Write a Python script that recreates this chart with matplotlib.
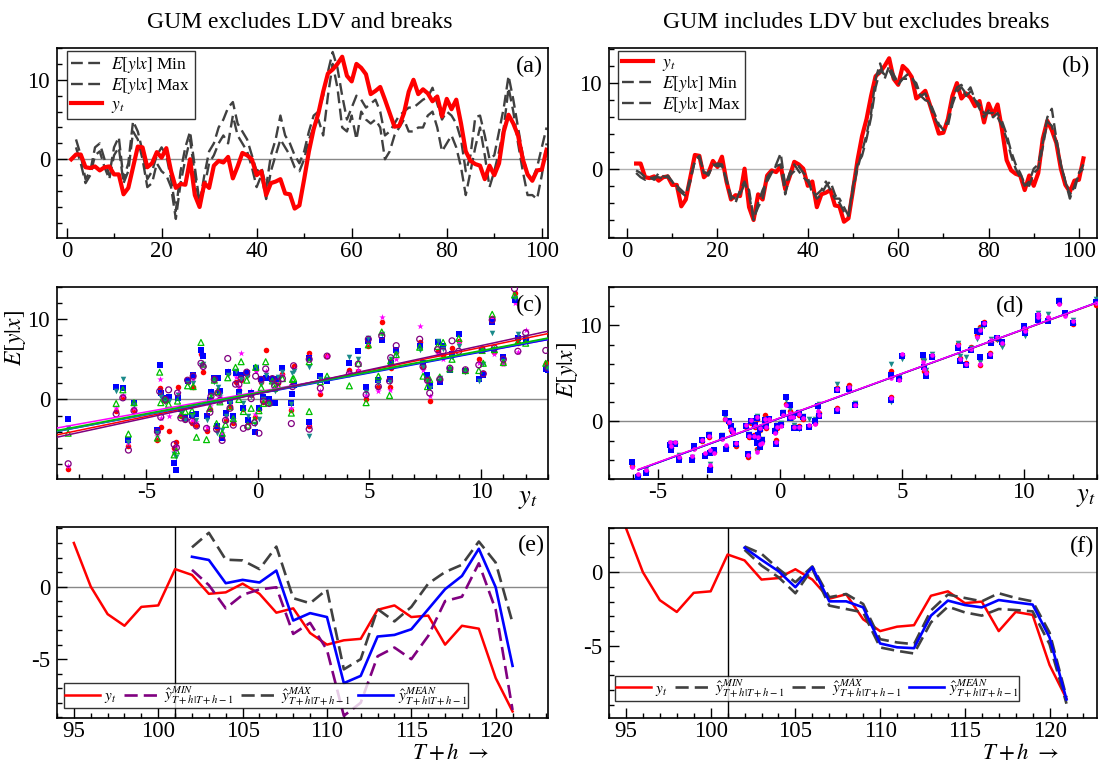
import numpy as np
import matplotlib
matplotlib.use('Agg')
import matplotlib.pyplot as plt
from matplotlib.ticker import MultipleLocator
from matplotlib.lines import Line2D

plt.rcParams['font.family'] = ['Liberation Serif', 'DejaVu Serif']
plt.rcParams['mathtext.fontset'] = 'stix'
plt.rcParams['axes.unicode_minus'] = False

# ---------------- data ----------------
t_first = 1
y_t = [0.0, 0.6, 0.6, -1.0, -1.1, -0.9, -1.4, -1.0, -0.9, -1.9,
       -1.9, -4.4, -3.6, -1.0, 1.6, 1.5, -1.0, -0.5, 0.9, 0.2,
       1.4, -1.5, -3.6, -3.1, -3.2, 0.0, -4.5, -6.0, -3.0, -3.6,
       -0.8, -0.2, -0.4, 0.3, -2.4, -0.9, 0.8, 0.5, 0.0, -2.0,
       -1.5, -4.5, -3.0, -2.8, -2.5, -4.3, -4.4, -6.2, -5.8, -2.5,
       1.0, 3.8, 5.8, 8.5, 10.8, 11.3, 12.0, 12.9, 10.5, 9.8,
       12.0, 11.5, 10.7, 8.2, 8.6, 9.1, 7.5, 5.8, 4.1, 4.2,
       5.8, 8.5, 10.0, 8.2, 8.8, 8.3, 7.3, 7.9, 5.4, 7.6,
       6.3, 7.5, 4.5, 1.0, -0.2, -0.6, -0.8, -2.5, -0.8, -2.0,
       -0.5, 3.5, 5.6, 4.5, 3.0, 0.0, -1.9, -2.7, -1.4, -1.3,
       1.2, 0.8, -0.5, -0.4, 0.2, -0.5, -1.8, -1.5, -3.2, -4.0,
       -3.7, -3.6, -1.6, -1.3, -2.1, -2.0, -4.0, -2.7, -2.9, -6.3,
       -8.6]

# panel (a): E[y|x] min / max, t = 2..101
a_Emin = [1.5, -0.5, -3.0, -2.0, 0.5, 1.0, -1.0, -2.5, 0.5, 1.5,
          -3.0, -1.5, 3.5, 2.5, 0.0, -3.5, -3.0, -0.5, -1.5, -2.0,
          -3.5, -7.5, -3.0, 0.0, 2.5, -2.0, -6.0, -3.5, -0.5, 0.5,
          2.0, 3.0, 2.0, 5.5, 3.0, 2.0, 1.0, -1.0, -3.5, -2.0,
          -5.0, -1.5, 0.5, 2.5, 1.5, 0.5, -1.0, -1.5, 0.0, 2.5,
          4.0, 5.0, 3.0, 8.0, 12.0, 9.0, 4.0, 3.5, 5.5, 2.5,
          6.0, 5.0, 4.5, 5.0, 4.0, 0.0, 1.0, 3.0, 4.0, 5.0,
          3.5, 3.5, 4.0, 4.0, 5.5, 6.0, 4.0, 1.0, 2.0, 3.0,
          1.5, -1.0, -4.5, -1.5, 1.5, 4.0, 0.5, -3.5, -1.5, 1.0,
          4.0, 9.0, 6.0, 2.0, -1.5, -4.5, -4.5, -5.0, -2.0, 2.0]
a_Emax = [2.5, 0.5, -2.5, -1.5, 1.5, 2.0, 0.0, -2.0, 1.5, 2.8,
          -2.5, -0.5, 4.8, 3.5, 1.0, -2.5, -1.5, 0.5, 1.5, 0.5,
          -2.5, -6.5, -1.5, 1.5, 3.5, -1.0, -5.5, -2.0, 1.0, 2.0,
          4.0, 5.0, 6.5, 7.2, 4.5, 3.5, 2.5, 0.5, -1.5, -1.0,
          -3.5, 0.5, 2.5, 5.5, 3.0, 2.0, 0.5, -0.5, 1.0, 3.5,
          5.5, 6.0, 8.0, 11.0, 13.5, 11.5, 8.0, 5.0, 6.5, 8.0,
          7.5, 6.5, 7.0, 7.5, 6.0, 3.0, 3.5, 4.5, 5.5, 6.0,
          6.5, 6.5, 7.0, 7.5, 7.8, 9.0, 7.0, 5.0, 6.0, 5.5,
          4.5, 2.5, -1.5, 0.5, 5.3, 5.5, 3.0, 0.0, 0.5, 3.5,
          6.5, 10.5, 7.5, 4.0, 0.5, -2.0, -2.5, -1.0, 1.5, 4.0]

# panel (b): E[y|x] min / max, t = 2..101
b_Emin = [-0.5, -1.0, -1.3, -1.0, -1.3, -0.5, -0.9, -1.0, -1.5, -2.0,
          -2.5, -3.0, -1.5, 1.0, 1.5, -0.5, -0.5, 0.3, 0.6, 0.5,
          -1.5, -3.5, -4.0, -2.5, -1.5, -3.0, -6.0, -4.0, -2.5, -1.5,
          -0.5, 0.5, 1.8, -2.0, -0.5, 0.5, -0.3, -1.0, -1.5, -2.5,
          -3.5, -3.0, -2.0, -1.5, -3.0, -4.0, -5.0, -5.5, -2.5, 0.0,
          2.0, 4.0, 6.5, 10.5, 12.3, 10.5, 12.0, 11.0, 10.0, 10.5,
          11.0, 10.8, 9.5, 8.5, 8.8, 7.5, 6.0, 5.0, 4.8, 5.5,
          8.0, 9.5, 9.8, 8.5, 9.0, 8.0, 7.5, 6.5, 6.5, 6.5,
          6.0, 5.0, 3.5, 1.5, 0.0, -1.0, -2.0, -1.5, 0.0, 0.5,
          3.0, 6.0, 7.0, 3.5, 0.5, -1.5, -3.5, -2.0, -0.5, 0.5]
b_Emax = [-0.2, -0.5, -1.0, -1.2, -1.0, -1.0, -1.2, -0.8, -1.5, -2.3,
          -2.8, -3.2, -1.0, 0.8, 1.3, -0.3, -0.8, 0.5, 0.3, 0.3,
          -1.2, -3.2, -3.5, -3.0, -1.8, -2.5, -5.8, -4.5, -3.5, -1.0,
          -0.3, 0.3, 0.5, -3.0, -0.8, -0.3, 0.3, -0.5, -1.0, -3.0,
          -3.0, -2.5, -1.5, -2.5, -3.5, -3.5, -4.5, -5.5, -2.0, 0.5,
          1.5, 3.5, 6.0, 9.5, 11.5, 11.0, 11.5, 10.5, 9.8, 10.5,
          10.5, 10.5, 10.0, 8.5, 8.0, 7.8, 6.5, 5.2, 4.5, 5.0,
          7.5, 9.0, 9.5, 8.8, 9.5, 8.0, 7.0, 6.0, 6.8, 6.0,
          6.5, 5.5, 4.0, 2.0, 0.5, -0.5, -1.8, -2.0, -0.5, 0.0,
          2.5, 5.5, 5.0, 3.0, 0.5, -1.5, -3.0, -2.5, -0.5, 0.0]

# panel (c): scatter of E[y|x] against y_t for six models
c_x = [-8.5, -6.35, -6.05, -5.8, -5.55, -4.5, -4.4, -4.35, -4.15, -4.0,
       -3.75, -3.65, -3.6, -3.25, -3.15, -2.95, -2.9, -2.75, -2.55, -2.45,
       -2.3, -2.15, -1.95, -1.85, -1.7, -1.6, -1.45, -1.35, -1.25, -1.1,
       -1.0, -0.85, -0.75, -0.65, -0.5, -0.3, -0.15, -0.1, 0.05, 0.15,
       0.35, 0.5, 0.65, 0.75, 1.1, 1.5, 1.55, 1.6, 2.3, 2.3,
       2.8, 3.1, 4.1, 4.5, 4.85, 4.95, 5.4, 5.55, 5.9, 5.95,
       6.2, 7.25, 7.4, 7.6, 7.7, 8.05, 8.15, 8.3, 8.6, 8.7,
       9.0, 9.3, 9.9, 10.05, 10.1, 10.5, 10.6, 11.0, 11.5, 11.65,
       12.0, 12.9, 13.0, -0.45, 0.25, -2.1, -3.45, -1.8, 0.9]
c_red = [-8.6, -1.4, 0.3, -5.8, -1.3, -5.0, 1.4, -3.4, -0.2, -3.9,
         -6.1, -5.3, 1.6, -2.4, 2.2, -2.9, 1.6, -3.2, 5.6, 3.4,
         -3.9, -1.2, 2.5, -3.6, 0.1, -4.6, -2.6, 3.3, -0.8, -2.9,
         2.2, 1.2, 2.4, -1.2, 3.0, 0.6, -2.2, 3.8, -1.2, 2.2,
         6.2, -0.3, 2.4, 1.3, 3.2, -1.3, 1.8, 4.2, -3.3, 5.8,
         0.7, 5.4, 3.7, 3.6, 0.0, 6.6, 1.5, 9.7, 1.6, 3.9,
         5.9, 7.1, 4.0, 2.6, -0.2, 6.0, 2.4, 5.5, 3.8, 6.4,
         7.3, 3.5, 5.0, 6.1, 3.3, 10.2, 5.9, 4.5, 13.2, 7.0,
         7.6, 4.5, 4.0, -2.8, -0.3, 0.8, -2.0, 1.1, 2.0]
c_magenta = [-8.3, -1.0, 0.6, -5.4, -1.0, -4.6, 2.5, -2.3, 0.1, -2.0,
             -6.5, -5.8, 0.8, -2.0, 2.4, -2.5, 2.6, -2.8, 5.8, 4.2,
             -3.4, -0.8, 2.6, -3.2, 0.4, -4.2, -2.2, 3.6, -0.5, -2.4,
             2.8, 1.5, 5.8, -0.8, 3.5, 1.0, -1.8, 3.6, -0.9, 2.6,
             3.5, -0.1, 2.6, 1.5, 3.0, -1.0, 2.2, 3.8, -3.0, 5.4,
             1.0, 5.4, 3.3, 3.7, 0.6, 7.0, 1.1, 10.3, 1.2, 4.3,
             5.0, 9.2, 3.7, 2.0, 0.4, 5.6, 2.6, 5.0, 3.9, 5.8,
             7.1, 3.6, 4.6, 6.0, 3.0, 10.1, 5.6, 4.4, 12.0, 5.9,
             8.7, 4.1, 3.8, -2.3, 0.1, 1.1, -1.6, 1.3, 2.3]
c_blue = [-2.4, 1.6, 1.4, -5.0, -0.5, -3.8, 4.3, 0.8, 0.2, 0.3,
          -7.9, -8.8, 0.2, -2.3, 2.3, -1.9, 3.0, -1.8, 6.2, 5.4,
          -2.0, -0.1, 2.7, -3.3, 1.0, -4.8, -1.7, 3.4, -0.2, -2.1,
          3.3, 0.9, 3.0, -1.0, 3.3, 0.8, -4.1, 3.9, -1.0, 2.5,
          2.7, 0.0, 2.5, -0.4, 3.9, -0.5, 0.7, 1.8, -2.8, 5.2,
          2.9, 2.3, 4.5, 6.0, 1.5, 7.3, 2.4, 7.4, 2.6, 4.6,
          6.2, 6.6, 4.5, 3.1, 1.7, 7.1, 2.2, 6.6, 3.7, 5.6,
          8.2, 3.5, 2.6, 6.2, 3.1, 9.7, 6.1, 5.3, 12.4, 7.6,
          7.4, 3.8, 3.7, -2.5, 0.3, 0.9, -1.2, 2.7, 2.5]
c_teal = [-3.5, 1.0, 2.5, -5.3, -0.7, -4.2, 0.6, 0.3, -0.3, -0.2,
          -6.8, -7.2, 0.5, -2.6, 2.0, -2.1, 2.1, -2.5, 4.3, 4.4,
          -2.6, -0.4, 2.2, -4.2, 0.6, -3.8, -2.0, 3.0, -0.4, -2.7,
          3.5, 0.5, 2.5, -0.5, 2.8, 0.4, -3.1, 4.0, -2.4, 1.9,
          3.1, -0.6, 2.1, 1.0, 3.4, -0.6, 3.3, 3.5, -4.5, 4.0,
          2.5, 2.6, 5.3, 5.0, 0.9, 7.6, 2.1, 8.1, 2.2, 5.0,
          5.6, 6.1, 4.1, 2.3, 1.4, 7.3, 2.7, 6.3, 3.8, 5.3,
          6.6, 3.4, 2.3, 6.3, 4.4, 8.3, 6.3, 4.8, 12.6, 8.1,
          7.8, 4.0, 3.9, -2.1, 0.0, 0.6, -1.5, 1.5, 2.8]
c_green = [-4.2, -0.5, 1.2, -4.3, -0.4, -4.8, 3.4, -0.4, 0.0, -0.6,
           -6.9, -6.4, -0.2, -1.5, 1.7, -1.4, 1.6, -4.7, 7.1, 4.4,
           -5.0, -1.1, 2.4, -3.0, -0.3, -4.2, -3.1, 2.7, -0.9, -2.4,
           4.0, 0.0, 4.7, -1.5, 2.4, -1.1, -2.6, 4.0, -1.4, 1.5,
           4.7, -0.4, 2.3, 1.4, 2.6, -1.7, 2.5, 2.6, -1.5, 4.7,
           2.2, 2.9, 1.7, 4.5, -0.4, 6.8, 2.9, 8.4, 0.5, 4.8,
           5.6, 6.5, 2.9, 1.6, 2.5, 6.6, 2.8, 7.1, 3.8, 5.0,
           7.6, 3.6, 3.6, 6.1, 4.5, 10.6, 6.2, 4.6, 13.0, 7.2,
           7.0, 4.5, 4.3, -3.2, -0.5, 0.2, -1.9, 1.0, 1.7]
c_purple = [-8.0, -1.8, 0.2, -6.3, -1.4, -4.0, 1.0, -2.2, 0.0, 1.2,
            -5.6, -6.0, 0.8, -2.5, 2.4, -2.7, 2.9, -3.3, 4.5, 4.1,
            -3.6, -1.6, 2.5, -3.7, -0.1, -5.1, -2.6, 5.1, -1.1, -3.2,
            1.9, 1.9, 2.6, -3.6, 3.4, 0.1, -2.9, 2.9, -4.2, 2.5,
            3.8, -0.5, 2.6, 1.7, 2.6, -3.0, 1.6, 4.2, -3.7, 5.0,
            1.4, 5.4, 3.2, 4.4, 0.6, 7.5, 1.6, 7.9, 2.3, 5.2,
            6.7, 7.5, 4.1, 2.4, 0.8, 6.2, 2.5, 6.0, 3.9, 7.3,
            6.0, 3.7, 4.3, 6.2, 3.2, 9.9, 6.4, 5.0, 13.8, 6.0,
            8.3, 6.1, 3.9, -3.4, -0.2, 0.4, -2.3, 0.8, 2.2]
# fitted lines in (c): intercept and slope per model
c_line_names = ['red', 'magenta', 'blue', 'teal', 'green', 'purple']
c_line_int = [0.75, 0.95, 0.70, 0.75, 0.85, 0.70]
c_line_slope = [0.573, 0.50, 0.52, 0.525, 0.523, 0.60]
c_line_x = [-9.0, 13.0]

# panel (d): scatter of E[y|x] against y_t for four models
d_x = [-6.05, -5.8, -5.5, -4.5, -4.45, -4.3, -4.15, -3.6, -3.5, -3.2,
       -3.05, -2.9, -2.85, -2.85, -2.7, -2.35, -2.25, -2.2, -2.1, -2.0,
       -1.9, -1.8, -1.4, -1.3, -1.25, -1.2, -1.05, -1.0, -0.95, -0.95,
       -0.9, -0.8, -0.8, -0.75, -0.6, -0.55, -0.45, -0.2, -0.15, -0.1,
       0.05, 0.15, 0.25, 0.4, 0.4, 0.55, 0.6, 0.8, 0.8, 0.95,
       1.2, 1.45, 1.55, 1.6, 2.35, 2.35, 2.85, 3.1, 4.55, 4.55,
       4.9, 5.0, 5.85, 5.9, 6.0, 6.25, 7.3, 7.4, 7.65, 7.85,
       8.1, 8.2, 8.2, 8.35, 8.6, 8.65, 8.9, 9.1, 10.0, 10.05,
       10.6, 10.6, 11.0, 11.45, 11.7, 12.0, 12.95]
d_blue = [-4.2, -5.8, -5.4, -2.5, -3.0, -2.4, -4.0, -4.0, -2.6, -1.9,
          -3.6, -1.4, -5.1, -3.3, -3.0, -1.5, 0.9, -2.9, 0.0, -0.5,
          -1.0, -2.4, -0.5, -3.4, -1.4, 0.0, -1.6, -0.4, 0.4, -2.3,
          -1.4, -2.7, -0.8, -1.9, 0.1, -0.5, 0.2, -1.0, -2.4, -0.5,
          -0.4, 0.9, 2.5, 1.7, 0.4, 0.6, -0.7, 0.9, -0.7, 0.5,
          -0.6, 0.0, 1.6, 0.6, 3.3, 1.1, 3.4, 1.7, 4.8, 2.2,
          4.4, 6.8, 6.9, 5.7, 4.7, 6.7, 7.6, 6.3, 5.9, 7.4,
          9.4, 9.3, 6.7, 10.1, 6.8, 8.2, 8.7, 8.3, 9.9, 9.2,
          11.0, 10.6, 10.5, 12.5, 11.3, 10.3, 12.4]
d_red = [-4.6, -5.6, -5.2, -2.3, -2.8, -2.2, -3.8, -3.8, -2.8, -2.0,
         -3.4, -1.6, -4.7, -3.1, -3.2, -1.7, 0.2, -2.7, -0.2, -0.9,
         -1.2, -2.6, -0.6, -3.7, -1.6, -0.2, -1.4, -0.6, 0.3, -2.9,
         -1.5, -2.5, -0.9, -2.0, 0.7, -0.7, 0.1, -1.1, -1.9, -0.7,
         -0.3, 0.8, 1.8, 1.1, 0.6, 0.8, -0.5, 0.7, -0.5, 0.3,
         -0.5, -0.2, 0.7, 0.9, 3.5, 1.4, 3.8, 1.8, 5.3, 2.5,
         4.5, 6.9, 6.6, 5.3, 5.1, 6.8, 8.1, 6.6, 6.1, 7.7,
         9.0, 9.8, 5.9, 10.4, 7.1, 8.3, 8.6, 8.1, 9.6, 9.5,
         11.1, 10.8, 10.8, 12.3, 11.2, 10.1, 12.1]
d_magenta = [-4.7, -5.5, -5.1, -2.1, -2.6, -2.1, -3.7, -3.6, -2.9, -1.9,
             -3.3, -1.5, -4.5, -3.0, -3.3, -1.8, 0.3, -2.5, -0.1, -0.8,
             -1.1, -2.3, -0.4, -3.5, -1.5, 0.1, -1.5, -0.5, 0.5, -3.2,
             -1.6, -2.4, -0.7, -2.2, 0.2, -0.6, 0.2, -1.2, -2.1, -0.6,
             -0.5, 0.7, 1.7, 0.9, 0.5, 0.5, -0.6, 0.8, -0.6, 0.4,
             -0.4, -0.3, 1.1, 0.7, 3.4, 1.3, 3.6, 1.7, 4.5, 2.4,
             4.3, 7.0, 6.2, 5.5, 5.0, 6.9, 8.0, 6.5, 6.0, 7.5,
             8.8, 9.5, 6.0, 10.2, 7.0, 8.5, 8.8, 8.2, 9.7, 9.4,
             11.2, 10.9, 10.9, 12.2, 11.0, 10.5, 12.3]
d_teal = [-4.5, -5.7, -5.0, -2.3, -2.9, -2.3, -3.5, -3.7, -2.7, -2.0,
          -3.5, -1.3, -4.4, -3.2, -3.1, -1.4, 0.5, -2.8, -0.3, -0.6,
          -0.9, -2.5, -0.5, -3.6, -1.3, -0.1, -1.7, -0.3, 0.6, -3.1,
          -1.3, -2.6, -1.0, -1.8, 0.3, -0.4, 0.3, -0.9, -2.2, -0.4,
          -0.2, 1.0, 2.2, 1.3, 0.7, 0.4, -0.4, 1.0, -0.8, 0.6,
          0.2, 0.2, 1.3, 1.8, 3.9, 1.2, 3.5, 1.9, 6.0, 2.0,
          4.6, 6.5, 6.4, 6.3, 5.4, 7.0, 8.2, 6.8, 6.7, 7.6,
          8.6, 9.6, 6.2, 9.9, 6.9, 8.6, 8.5, 7.7, 9.8, 8.9,
          10.9, 11.3, 11.2, 12.6, 11.1, 10.6, 12.8]
d_line_names = ['teal', 'red', 'blue', 'magenta']
d_line_int = [0.32, 0.34, 0.33, 0.36]
d_line_slope = [0.926, 0.925, 0.928, 0.925]
d_line_x = [-5.8, 13.0]

# panels (e), (f): one-step forecasts for T+h = 102..121
fc_first = 102
e_min = [1.15, 0.1, -1.5, -0.57, -0.2, -0.05, -3.26, -2.5, -4.36, -8.9,
         -8.0, -4.8, -4.2, -5.0, -3.4, -1.0, -0.7, 1.6, -1.6, -8.5]
e_max = [2.7, 3.7, 1.85, 1.8, 1.2, 2.75, -0.8, -1.15, -0.2, -5.7,
         -5.0, -1.55, -2.4, -1.4, 0.2, 1.0, 1.5, 3.1, 1.65, -2.5]
e_mean = [2.05, 1.83, 0.23, 0.46, 0.28, 1.1, -2.34, -1.83, -2.1, -6.65,
          -6.15, -3.44, -3.33, -2.94, -1.56, -0.18, 0.73, 2.6, -0.05, -5.46]
f_min = [1.52, 0.45, -0.34, -1.43, 0.23, -2.27, -2.5, -2.73, -5.11, -5.34,
         -5.52, -3.41, -2.34, -2.73, -2.95, -2.5, -2.57, -2.66, -4.89, -8.93]
f_max = [1.75, 1.25, 0.23, -0.68, 0.39, -1.7, -1.48, -2.16, -4.55, -4.77,
         -4.89, -2.6, -1.52, -1.75, -1.98, -1.43, -1.75, -1.98, -4.1, -8.5]
f_mean = [1.66, 0.84, 0.07, -1.02, 0.34, -1.98, -1.98, -2.39, -4.84, -5.1,
          -5.16, -2.95, -1.93, -2.23, -2.39, -1.89, -2.05, -2.2, -4.43, -8.64]
forecast_origin = 101
ef_start = 95

# ---------------- styling ----------------
RED = '#ff0000'
DGRAY = '#404040'
BLUE = '#0000ff'
PURPLE = '#800080'
MAGENTA = '#ff00ff'
TEAL = '#1a8a8a'
GREEN = '#00c000'
colmap = {'red': RED, 'magenta': MAGENTA, 'blue': BLUE, 'teal': TEAL,
          'green': GREEN, 'purple': PURPLE}
DASH = (0, (5, 2.3))
TICK_FS = 16.5

t_y = np.arange(t_first, t_first + len(y_t))
y_arr = np.array(y_t)
t_a = np.arange(2, 2 + len(a_Emin))
t_b = np.arange(2, 2 + len(b_Emin))
t_fc = np.arange(fc_first, fc_first + len(e_mean))

fig = plt.figure(figsize=(11, 7.62), dpi=100)
W, H = 1100.0, 762.0


def make_ax(x0, x1, y_top, y_bot):
    return fig.add_axes([x0 / W, 1 - y_bot / H, (x1 - x0) / W, (y_bot - y_top) / H])


def style(ax, xmaj, xmin, ymaj, ymin, zero_col='#888888'):
    ax.xaxis.set_major_locator(MultipleLocator(xmaj))
    ax.xaxis.set_minor_locator(MultipleLocator(xmin))
    ax.yaxis.set_major_locator(MultipleLocator(ymaj))
    ax.yaxis.set_minor_locator(MultipleLocator(ymin))
    ax.tick_params(which='both', direction='in', top=False, right=False,
                   labelsize=TICK_FS, width=1.0)
    ax.tick_params(which='major', length=7)
    ax.tick_params(axis='x', which='major', pad=2)
    ax.tick_params(axis='y', which='major', pad=5)
    ax.tick_params(which='minor', length=3.5)
    for s in ax.spines.values():
        s.set_linewidth(1.2)
    ax.axhline(0, color=zero_col, lw=1.0, zorder=0.5)


def panel_label(ax, txt, x, y):
    ax.text(x, y, txt, transform=ax.transAxes, ha='right', va='center', fontsize=17.5)


LX0, LX1 = 57, 548
RX0, RX1 = 609, 1097
LEG_KW = dict(frameon=True, fancybox=False, edgecolor='black')

# ---- (a)
ax_a = make_ax(LX0, LX1, 48, 238)
ax_a.plot(t_a, a_Emin, color=DGRAY, lw=1.7, ls=DASH)
ax_a.plot(t_a, a_Emax, color=DGRAY, lw=1.7, ls=DASH)
ax_a.plot(t_y[:101], y_arr[:101], color=RED, lw=3.0)
ax_a.set_xlim(-2, 101.3)
ax_a.set_ylim(-9.9, 14)
style(ax_a, 20, 10, 10, 2)
panel_label(ax_a, '(a)', 0.99, 0.905)
h_min = Line2D([], [], color=DGRAY, lw=1.7, ls=DASH)
h_max = Line2D([], [], color=DGRAY, lw=1.7, ls=DASH)
h_y = Line2D([], [], color=RED, lw=3.0)
leg = ax_a.legend([h_min, h_max, h_y], [r'$E[y|x]$ Min', r'$E[y|x]$ Max', r'$y_t$'],
                  loc='upper left', bbox_to_anchor=(0.02, 0.985), fontsize=12.5,
                  handlelength=1.8, labelspacing=0.05, borderpad=0.25,
                  handletextpad=0.5, borderaxespad=0, **LEG_KW)
leg.get_frame().set_linewidth(1.0)

# ---- (b)
ax_b = make_ax(RX0, RX1, 48, 238)
ax_b.plot(t_y[1:101], y_arr[1:101], color=RED, lw=3.0)
ax_b.plot(t_b, b_Emin, color=DGRAY, lw=1.7, ls=DASH)
ax_b.plot(t_b, b_Emax, color=DGRAY, lw=1.7, ls=DASH)
ax_b.set_xlim(-4, 104)
ax_b.set_ylim(-8.1, 14.1)
style(ax_b, 20, 10, 10, 2, zero_col='#b0b0b0')
panel_label(ax_b, '(b)', 0.986, 0.905)
leg = ax_b.legend([h_y, h_min, h_max], [r'$y_t$', r'$E[y|x]$ Min', r'$E[y|x]$ Max'],
                  loc='upper left', bbox_to_anchor=(0.018, 0.985), fontsize=12.5,
                  handlelength=1.8, labelspacing=0.05, borderpad=0.25,
                  handletextpad=0.5, borderaxespad=0, **LEG_KW)
leg.get_frame().set_linewidth(1.0)

# ---- (c)
ax_c = make_ax(LX0, LX1, 287, 479)
c_series = {'red': c_red, 'magenta': c_magenta, 'blue': c_blue, 'teal': c_teal,
            'green': c_green, 'purple': c_purple}
c_marker = {'red': ('o', True), 'magenta': ('*', True), 'blue': ('s', True),
            'teal': ('v', True), 'green': ('^', False), 'purple': ('o', False)}
for name in ['red', 'magenta', 'blue', 'teal', 'green', 'purple']:
    mk, filled = c_marker[name]
    col = colmap[name]
    if filled:
        ax_c.scatter(c_x, c_series[name], marker=mk, s=16 if mk != '*' else 24,
                     color=col, linewidths=0, zorder=3)
    else:
        ax_c.scatter(c_x, c_series[name], marker=mk, s=18, facecolors='none',
                     edgecolors=col, linewidths=0.9, zorder=3)
xl = np.array(c_line_x)
for name, a0, b0 in zip(c_line_names, c_line_int, c_line_slope):
    ax_c.plot(xl, a0 + b0 * xl, color=colmap[name], lw=1.1, zorder=4)
ax_c.set_xlim(-9, 13)
ax_c.set_ylim(-9.9, 14)
style(ax_c, 5, 1, 10, 2)
panel_label(ax_c, '(c)', 0.99, 0.905)

# ---- (d)
ax_d = make_ax(RX0, RX1, 287, 479)
d_series = {'red': d_red, 'magenta': d_magenta, 'blue': d_blue, 'teal': d_teal}
d_marker = {'red': 'o', 'teal': 'v', 'blue': 's', 'magenta': 'o'}
d_size = {'red': 16, 'teal': 16, 'blue': 20, 'magenta': 11}
for name in ['red', 'teal', 'blue', 'magenta']:
    ax_d.scatter(d_x, d_series[name], marker=d_marker[name], s=d_size[name],
                 color=colmap[name], linewidths=0, zorder=3)
xl = np.array(d_line_x)
for name, a0, b0 in zip(d_line_names, d_line_int, d_line_slope):
    ax_d.plot(xl, a0 + b0 * xl, color=colmap[name], lw=1.1, zorder=4)
ax_d.set_xlim(-7, 13)
ax_d.set_ylim(-6, 14)
style(ax_d, 5, 1, 10, 2)
panel_label(ax_d, '(d)', 0.85, 0.90)

# ---- (e)
mask = t_y >= ef_start
ax_e = make_ax(LX0, LX1, 527, 718)
ax_e.axvline(forecast_origin, color='black', lw=1.0)
ax_e.plot(t_y[mask], y_arr[mask], color=RED, lw=1.8)
ax_e.plot(t_fc, e_min, color=PURPLE, lw=1.9, ls=DASH)
ax_e.plot(t_fc, e_max, color=DGRAY, lw=1.9, ls=DASH)
ax_e.plot(t_fc, e_mean, color=BLUE, lw=1.9)
ax_e.set_xlim(94, 123.1)
ax_e.set_ylim(-9.05, 4.1)
style(ax_e, 5, 1, 5, 1)
panel_label(ax_e, '(e)', 0.994, 0.905)
lab_fc = [r'$y_t$', r'$\hat{y}^{MIN}_{T+h|T+h-1}$', r'$\hat{y}^{MAX}_{T+h|T+h-1}$',
          r'$\hat{y}^{MEAN}_{T+h|T+h-1}$']
he = [Line2D([], [], color=RED, lw=1.8), Line2D([], [], color=PURPLE, lw=1.9, ls=DASH),
      Line2D([], [], color=DGRAY, lw=1.9, ls=DASH), Line2D([], [], color=BLUE, lw=1.9)]
leg = ax_e.legend(he, lab_fc, loc='lower left', bbox_to_anchor=(0.014, 0.05), ncol=4,
                  fontsize=11, handlelength=2.3, columnspacing=0.5, handletextpad=0.3,
                  borderpad=0.05, borderaxespad=0, **LEG_KW)
leg.get_frame().set_linewidth(1.0)

# ---- (f)
ax_f = make_ax(RX0, RX1, 528, 718)
ax_f.axvline(forecast_origin, color='black', lw=1.0)
ax_f.plot(t_y[mask], y_arr[mask], color=RED, lw=1.8)
ax_f.plot(t_fc, f_min, color=DGRAY, lw=1.9, ls=DASH)
ax_f.plot(t_fc, f_max, color=DGRAY, lw=1.9, ls=DASH)
ax_f.plot(t_fc, f_mean, color=BLUE, lw=1.9)
ax_f.set_xlim(94, 122.8)
ax_f.set_ylim(-9.9, 3)
style(ax_f, 5, 1, 5, 1, zero_col='#b0b0b0')
panel_label(ax_f, '(f)', 0.994, 0.905)
hf = [Line2D([], [], color=RED, lw=1.8), Line2D([], [], color=DGRAY, lw=1.9, ls=DASH),
      Line2D([], [], color=DGRAY, lw=1.9, ls=DASH), Line2D([], [], color=BLUE, lw=1.9)]
leg = ax_f.legend(hf, lab_fc, loc='lower left', bbox_to_anchor=(0.012, 0.09), ncol=4,
                  fontsize=11, handlelength=2.3, columnspacing=0.5, handletextpad=0.3,
                  borderpad=0.05, borderaxespad=0, **LEG_KW)
leg.get_frame().set_linewidth(1.0)

# ---- titles and axis labels
fig.text(300 / W, 1 - 22 / H, 'GUM excludes LDV and breaks', ha='center', va='center', fontsize=17)
fig.text(856 / W, 1 - 22 / H, 'GUM includes LDV but excludes breaks', ha='center', va='center', fontsize=17)
fig.text(15 / W, 1 - 338 / H, r'$E[y|x]$', rotation=90, ha='center', va='center', fontsize=17)
fig.text(567 / W, 1 - 370 / H, r'$E[y|x]$', rotation=90, ha='center', va='center', fontsize=17)
fig.text(528 / W, 1 - 500 / H, r'$y_t$', ha='center', va='center', fontsize=19)
fig.text(1086 / W, 1 - 498 / H, r'$y_t$', ha='center', va='center', fontsize=19)
fig.text(450 / W, 1 - 753 / H, r'$T+h\ \rightarrow$', ha='center', va='center', fontsize=16.5)
fig.text(1020 / W, 1 - 753 / H, r'$T+h\ \rightarrow$', ha='center', va='center', fontsize=16.5)

fig.savefig('out.png', dpi=100)
